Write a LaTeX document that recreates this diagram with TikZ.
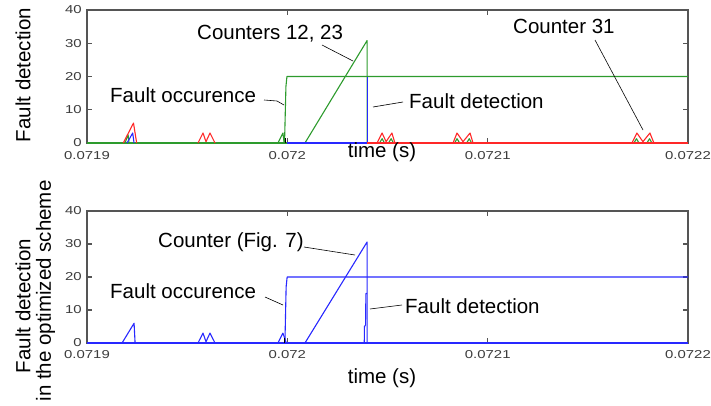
\documentclass[tikz,border=0pt]{standalone}
\usepackage{fontspec}
\setmainfont{Liberation Sans}
\definecolor{mgreen}{RGB}{45,155,45}
\definecolor{mred}{RGB}{255,40,40}
\definecolor{mblue}{RGB}{40,40,255}
\definecolor{axgray}{RGB}{85,85,85}
\definecolor{ticklbl}{RGB}{60,60,60}
\begin{document}
\begin{tikzpicture}[x=1pt,y=-1pt,
  annot/.style={font=\fontsize{20.5}{22}\selectfont, inner sep=0pt, anchor=base west},
  axlab/.style={font=\fontsize{20.5}{22}\selectfont, inner sep=0pt, rotate=90},
  ticklab/.style={font=\fontsize{11.5}{12}\selectfont, text=ticklbl, inner sep=0pt, xscale=1.3},
  frame/.style={draw=axgray, line width=1.2pt},
  leader/.style={draw=black, line width=0.6pt},
  curve/.style={line width=1.1pt, line join=round},
]
\useasboundingbox (0,0) rectangle (711,405);

% ---------- axes frames ----------
\foreach \yt/\yb/\nm/\xy in {10/143/a/156, 211/343/b/355} {
  \draw[frame] (87,\yt) rectangle (688,\yb);
  \foreach \k in {1,2,3} {
    \draw[frame] (87,{\yb-\k*(\yb-\yt)/4}) -- ++(5,0);
    \draw[frame] (688,{\yb-\k*(\yb-\yt)/4}) -- ++(-5,0);
  }
  \foreach \xx in {287.3,487.7} {
    \draw[frame] (\xx,\yt) -- ++(0,5);
    \draw[frame] (\xx,\yb) -- ++(0,-5);
  }
  \foreach \v in {0,10,20,30,40} {
    \node[ticklab, anchor=east] (yt\nm\v) at (82,{\yb-\v*(\yb-\yt)/40}) {\v};
  }
  \node[ticklab] (xt\nm1) at (87,\xy) {0.0719};
  \node[ticklab] (xt\nm2) at (287.3,\xy) {0.072};
  \node[ticklab] (xt\nm3) at (487.7,\xy) {0.0721};
  \node[ticklab] (xt\nm4) at (688,\xy) {0.0722};
}

% ---------- top plot data ----------
\begin{scope}[shift={(87pt,-143pt)}, x=2.0033pt, y=3.325pt]
  \draw[curve, mgreen] (0,0) -- (100,0);
  \draw[curve, mgreen] (95.3,0) -- (97.8,3) -- (98.4,0);
  \draw[curve, mgreen] (98.6,0) -- (99.3,17) -- (99.8,20) -- (300,20);
  \draw[curve, mgreen] (108.8,0) -- (139.8,30.8) -- (139.8,0);
  \draw[curve, mgreen] (19,0) -- (20.5,2.5) -- (21,0);
  \draw[curve, mgreen] (146,0) -- (147.3,1.3) -- (148.5,0);
  \draw[curve, mgreen] (150.5,0) -- (151.8,1.3) -- (153,0);
  \draw[curve, mgreen] (183.5,0) -- (184.7,1.3) -- (186,0);
  \draw[curve, mgreen] (189.5,0) -- (190.8,1.3) -- (192,0);
  \draw[curve, mgreen] (273,0) -- (274.3,1.3) -- (275.5,0);
  \draw[curve, mgreen] (279.5,0) -- (280.8,1.3) -- (282,0);
  \draw[curve, mblue] (100,0) -- (139.8,0) -- (139.8,20);
  \draw[curve, mblue] (20,0) -- (22.8,3) -- (23.5,0);
  \draw[curve, mred] (139.8,0) -- (300,0);
  \draw[curve, mred] (18.1,0) -- (23.2,6) -- (24.8,0);
  \draw[curve, mred] (55.4,0) -- (57.9,3) -- (59.4,0.4) -- (61.4,3) -- (63.9,0);
  \draw[curve, mred] (144.8,0) -- (147.3,3) -- (149.3,0.4) -- (152.2,3) -- (153.7,0);
  \draw[curve, mred] (182.7,0) -- (184.7,3) -- (187.7,0.4) -- (191.2,3) -- (192.7,0);
  \draw[curve, mred] (272,0) -- (274.5,3) -- (277.5,0.4) -- (281,3) -- (283,0);
  \draw[black, line width=1.1pt] (98.9,0) -- (98.9,1.4);
\end{scope}

% ---------- bottom plot data ----------
\begin{scope}[shift={(87pt,-343pt)}, x=2.0033pt, y=3.3pt]
  \draw[curve, mblue] (0,0) -- (300,0);
  \draw[curve, mblue] (17.5,0) -- (23.5,6) -- (24,0);
  \draw[curve, mblue] (55.4,0) -- (57.9,3) -- (59.4,0.4) -- (61.4,3) -- (63.9,0);
  \draw[curve, mblue] (95.3,0) -- (97.8,3) -- (99.5,0);
  \draw[curve, mblue] (98.8,0) -- (99.4,17) -- (99.9,20) -- (300,20);
  \draw[curve, mblue] (108.8,0) -- (139.8,30.6) -- (139.8,0);
  \draw[curve, mblue] (138.4,0) -- (138.5,5) -- (139.1,5.5) -- (139.2,15) -- (139.8,15);
  \draw[black, line width=1.1pt] (98.7,0) -- (98.7,1.4);
\end{scope}

% ---------- axis labels ----------
\node[axlab] (ylaba) at (23,75) {Fault detection};
\node[axlab] (ylabb1) at (23,306) {Fault detection};
\node[axlab] (ylabb2) at (45.5,291) {in the optimized scheme};
\node[font=\fontsize{20.5}{22}\selectfont, inner sep=0pt] (xlaba) at (382,152) {time (s)};
\node[font=\fontsize{20.5}{22}\selectfont, inner sep=0pt] (xlabb) at (382,378) {time (s)};

% ---------- annotations top ----------
\node[annot] (c1223) at (197,39) {Counters 12, 23};
\coordinate (c1223a) at (322,45);
\coordinate (c1223b) at (353,61);
\draw[leader] (c1223a) -- (c1223b);

\node[annot] (focca) at (110,102) {Fault occurence};
\coordinate (focca1) at (264,100);
\coordinate (focca2) at (277,101);
\coordinate (focca3) at (284,105);
\draw[leader] (focca1) -- (focca2) -- (focca3);

\node[annot] (fdeta) at (409,108) {Fault detection};
\coordinate (fdeta1) at (403,102);
\coordinate (fdeta2) at (373,107);
\draw[leader] (fdeta1) -- (fdeta2);

\node[annot] (c31) at (513,33) {Counter 31};
\coordinate (c31a) at (595,40);
\coordinate (c31b) at (643,130);
\draw[leader] (c31a) -- (c31b);

% ---------- annotations bottom ----------
\node[annot] (cfig) at (158,247) {Counter (Fig. 7)};
\coordinate (cfiga) at (304,247);
\coordinate (cfigb) at (355,255);
\draw[leader] (cfiga) -- (cfigb);

\node[annot] (foccb) at (110,298) {Fault occurence};
\coordinate (foccb1) at (265,297);
\coordinate (foccb2) at (283,305);
\draw[leader] (foccb1) -- (foccb2);

\node[annot] (fdetb) at (405,313) {Fault detection};
\coordinate (fdetb1) at (402,305);
\coordinate (fdetb2) at (370,309);
\draw[leader] (fdetb1) -- (fdetb2);
\end{tikzpicture}
\end{document}
